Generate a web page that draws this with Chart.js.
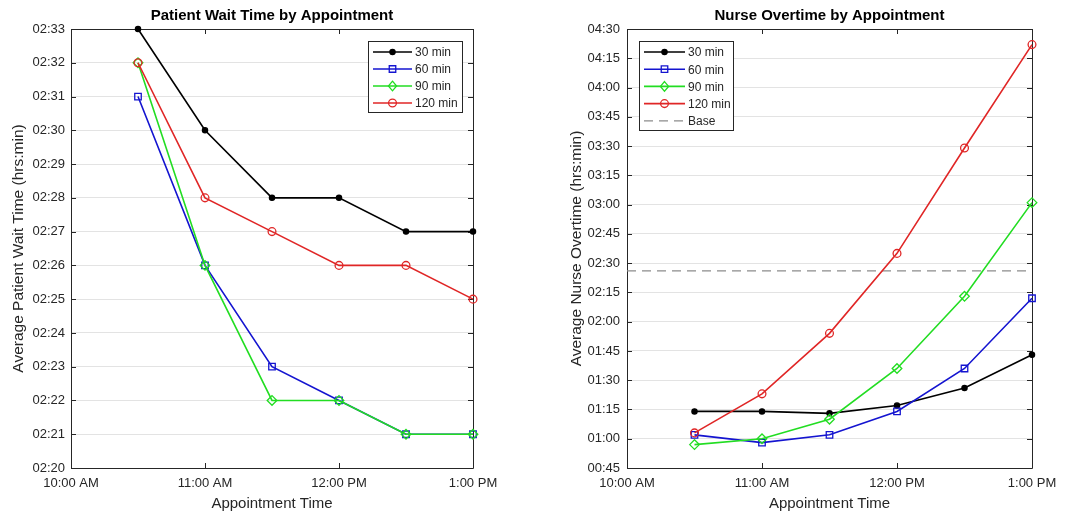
<!DOCTYPE html>
<html>
<head>
<meta charset="utf-8">
<title>Patient Wait Time and Nurse Overtime by Appointment</title>
<script src="https://cdn.jsdelivr.net/npm/chart.js@4"></script>
<style>
  html, body { margin: 0; padding: 0; background: #fff; }
  body { width: 1077px; height: 515px; position: relative; overflow: hidden; }
  .panel { position: absolute; top: 0; height: 515px; }
  #waitPanel { left: 0; width: 540px; }
  #overtimePanel { left: 540px; width: 537px; }
</style>
</head>
<body>
<div class="panel" id="waitPanel"><canvas id="waitChart"></canvas></div>
<div class="panel" id="overtimePanel"><canvas id="overtimeChart"></canvas></div>

<script>
// Appointment start times and x axis
const apptTimes = ['10:30', '11:00', '11:30', '12:00', '12:30', '13:00'];
const xRange = ['10:00', '13:00'];
const xTickLabels = ['10:00 AM', '11:00 AM', '12:00 PM', '1:00 PM'];
const seriesNames = ['30 min', '60 min', '90 min', '120 min'];

// Average patient wait time (hh:mm)
const wait30 = ['02:33', '02:30', '02:28', '02:28', '02:27', '02:27'];
const wait60 = ['02:31', '02:26', '02:23', '02:22', '02:21', '02:21'];
const wait90 = ['02:32', '02:26', '02:22', '02:22', '02:21', '02:21'];
const wait120 = ['02:32', '02:28', '02:27', '02:26', '02:26', '02:25'];
const waitRange = ['02:20', '02:33'];

// Average nurse overtime (hh:mm)
const over30 = ['01:14', '01:14', '01:13', '01:17', '01:26', '01:43'];
const over60 = ['01:02', '00:58', '01:02', '01:14', '01:36', '02:12'];
const over90 = ['00:57', '01:00', '01:10', '01:36', '02:13', '03:01'];
const over120 = ['01:03', '01:23', '01:54', '02:35', '03:29', '04:22'];
const overBase = '02:26';
const overRange = ['00:45', '04:30'];

const FONT = "'Liberation Sans', Arial, Helvetica, sans-serif";
const TXT = '#262626';
Chart.defaults.font.family = FONT;
Chart.defaults.color = TXT;

function toMin(s) {
  const [h, m] = s.split(':').map(Number);
  return h * 60 + m;
}
function fmtHM(v) {
  const h = Math.floor(v / 60), m = Math.round(v - h * 60);
  return String(h).padStart(2, '0') + ':' + String(m).padStart(2, '0');
}

const styles = [
  { color: '#000000', pointStyle: 'circle', radius: 2.6, fill: '#000000' },
  { color: '#1414d0', pointStyle: 'rect', radius: 4.6, fill: 'rgba(0,0,0,0)' },
  { color: '#22dd22', pointStyle: 'rectRot', radius: 4.8, fill: 'rgba(0,0,0,0)' },
  { color: '#e02626', pointStyle: 'circle', radius: 3.9, fill: 'rgba(0,0,0,0)' }
];

function seriesDatasets(valueLists) {
  return valueLists.map((vals, i) => ({
    label: seriesNames[i],
    data: apptTimes.map((t, j) => ({ x: toMin(t), y: toMin(vals[j]) })),
    borderColor: styles[i].color,
    borderWidth: 1.6,
    pointStyle: styles[i].pointStyle,
    pointRadius: styles[i].radius,
    pointBorderWidth: 1.3,
    pointBorderColor: styles[i].color,
    pointBackgroundColor: styles[i].fill,
    order: 3 - i,
    clip: false
  }));
}

// marker drawing used by the in-axes legend
function drawMarker(ctx, ds, x, y) {
  const r = ds.pointRadius;
  ctx.save();
  ctx.lineWidth = ds.pointBorderWidth;
  ctx.strokeStyle = ds.pointBorderColor;
  ctx.fillStyle = ds.pointBackgroundColor;
  ctx.beginPath();
  if (ds.pointStyle === 'circle') {
    ctx.arc(x, y, r, 0, Math.PI * 2);
  } else if (ds.pointStyle === 'rect') {
    const s = Math.SQRT1_2 * r;
    ctx.rect(x - s, y - s, 2 * s, 2 * s);
  } else if (ds.pointStyle === 'rectRot') {
    ctx.moveTo(x, y - r); ctx.lineTo(x + r * 0.85, y);
    ctx.lineTo(x, y + r); ctx.lineTo(x - r * 0.85, y); ctx.closePath();
  }
  ctx.fill();
  ctx.stroke();
  ctx.restore();
}

const matlabAxes = {
  id: 'matlabAxes',
  beforeDatasetsDraw(chart) {
    const { ctx, chartArea: a, scales: { x, y } } = chart;
    ctx.save();
    ctx.strokeStyle = TXT;
    ctx.lineWidth = 1;
    ctx.beginPath();
    ctx.rect(Math.round(a.left) + 0.5, Math.round(a.top) + 0.5,
             Math.round(a.right - a.left), Math.round(a.bottom - a.top));
    ctx.stroke();
    ctx.beginPath();
    y.ticks.forEach(t => {
      const py = Math.round(y.getPixelForValue(t.value)) + 0.5;
      ctx.moveTo(a.left, py); ctx.lineTo(a.left + 5, py);
      ctx.moveTo(a.right, py); ctx.lineTo(a.right - 5, py);
    });
    x.ticks.forEach(t => {
      const px = Math.round(x.getPixelForValue(t.value)) + 0.5;
      ctx.moveTo(px, a.bottom); ctx.lineTo(px, a.bottom - 5);
      ctx.moveTo(px, a.top); ctx.lineTo(px, a.top + 5);
    });
    ctx.stroke();
    ctx.restore();
  },
  afterDraw(chart, args, opts) {
    const { ctx, chartArea: a } = chart;
    ctx.save();
    // title centred over the axes
    ctx.fillStyle = '#000';
    ctx.font = 'bold 15px ' + FONT;
    ctx.textAlign = 'center';
    ctx.textBaseline = 'middle';
    ctx.fillText(opts.title, (a.left + a.right) / 2, 16);

    // legend box
    const L = opts.legend;
    ctx.fillStyle = '#fff';
    ctx.fillRect(L.x, L.y, L.w, L.h);
    ctx.strokeStyle = TXT;
    ctx.lineWidth = 1;
    ctx.strokeRect(L.x + 0.5, L.y + 0.5, L.w, L.h);
    ctx.font = '12px ' + FONT;
    ctx.textAlign = 'left';
    const sets = chart.data.datasets;
    sets.forEach((ds, i) => {
      const ry = L.y + L.first + i * L.step;
      ctx.save();
      ctx.strokeStyle = ds.borderColor;
      ctx.lineWidth = ds.borderWidth;
      if (ds.borderDash) ctx.setLineDash(ds.borderDash);
      ctx.beginPath();
      ctx.moveTo(L.x + 5, ry); ctx.lineTo(L.x + 5 + L.line, ry);
      ctx.stroke();
      ctx.restore();
      if (ds.pointRadius > 0) drawMarker(ctx, ds, L.x + 5 + L.line / 2, ry);
      ctx.fillStyle = TXT;
      ctx.fillText(ds.label, L.x + 8 + L.line, ry + 1);
    });
    ctx.restore();
  }
};

function makeChart(id, cfg) {
  return new Chart(document.getElementById(id), {
    type: 'line',
    data: { datasets: cfg.datasets },
    plugins: [matlabAxes],
    options: {
      responsive: true,
      maintainAspectRatio: false,
      animation: false,
      events: [],
      layout: { padding: { top: 29, right: cfg.padRight, left: 0, bottom: 0 } },
      plugins: {
        legend: { display: false },
        title: { display: false },
        tooltip: { enabled: false },
        matlabAxes: { title: cfg.title, legend: cfg.legend }
      },
      scales: {
        x: {
          type: 'linear',
          min: toMin(xRange[0]),
          max: toMin(xRange[1]),
          grid: { display: false, drawTicks: false },
          border: { display: false },
          ticks: {
            stepSize: 60,
            padding: 8,
            autoSkip: false,
            maxRotation: 0,
            font: { size: 13 },
            color: TXT,
            callback: (v, i) => xTickLabels[i]
          },
          title: {
            display: true,
            text: 'Appointment Time',
            font: { size: 15 },
            color: TXT,
            padding: { top: 0, bottom: 2 }
          },
          afterFit: s => { s.height = 47; }
        },
        y: {
          min: toMin(cfg.range[0]),
          max: toMin(cfg.range[1]),
          grid: { color: '#e3e3e3', lineWidth: 1, drawTicks: false },
          border: { display: false },
          ticks: {
            stepSize: cfg.step,
            padding: cfg.tickPad,
            font: { size: 13 },
            color: TXT,
            callback: v => fmtHM(v)
          },
          title: {
            display: true,
            text: cfg.yTitle,
            font: { size: 15.5 },
            color: TXT,
            padding: { top: cfg.titlePad, bottom: 0 }
          },
          afterFit: s => { s.width = cfg.yWidth; }
        }
      }
    }
  });
}

makeChart('waitChart', {
  title: 'Patient Wait Time by Appointment',
  yTitle: 'Average Patient Wait Time (hrs:min)',
  datasets: seriesDatasets([wait30, wait60, wait90, wait120]),
  range: waitRange,
  step: 1,
  yWidth: 71,
  padRight: 67,
  tickPad: 6,
  titlePad: 9,
  legend: { x: 368, y: 41, w: 94, h: 71, first: 11, step: 17, line: 39 }
});

const overSets = seriesDatasets([over30, over60, over90, over120]);
overSets.push({
  label: 'Base',
  data: xRange.map(t => ({ x: toMin(t), y: toMin(overBase) })),
  borderColor: '#8c8c8c',
  borderWidth: 1.2,
  borderDash: [9, 6],
  pointRadius: 0,
  order: 4,
  clip: false
});

makeChart('overtimeChart', {
  title: 'Nurse Overtime by Appointment',
  yTitle: 'Average Nurse Overtime (hrs:min)',
  datasets: overSets,
  range: overRange,
  step: 15,
  yWidth: 87,
  padRight: 45,
  tickPad: 7,
  titlePad: 27,
  legend: { x: 99, y: 41, w: 94, h: 89, first: 11, step: 17.2, line: 41 }
});
</script>
</body>
</html>
